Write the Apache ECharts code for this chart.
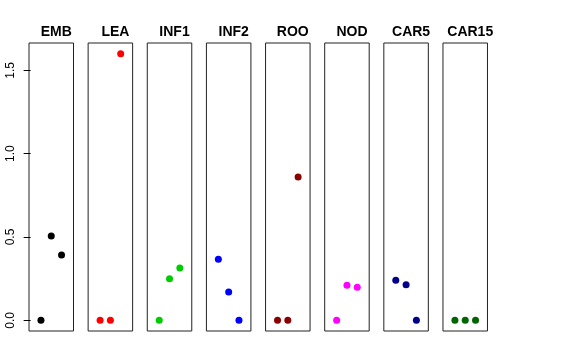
<!DOCTYPE html>
<html><head><meta charset="utf-8">
<script src="https://cdn.jsdelivr.net/npm/echarts@6/dist/echarts.min.js"></script>
<style>html,body{margin:0;padding:0;background:#fff}#c{width:576px;height:360px}</style>
</head><body><div id="c"></div>
<script>
const panels = ['EMB','LEA','INF1','INF2','ROO','NOD','CAR5','CAR15'];
const xPositions = [1, 2, 3];
const EMB = [0, 0.506, 0.392];
const LEA = [0, 0, 1.6];
const INF1 = [0, 0.25, 0.314];
const INF2 = [0.366, 0.17, 0];
const ROO = [0, 0, 0.86];
const NOD = [0, 0.21, 0.198];
const CAR5 = [0.24, 0.214, 0];
const CAR15 = [0, 0, 0];
const yTicks = [0, 0.5, 1.0, 1.5];
const values = [EMB, LEA, INF1, INF2, ROO, NOD, CAR5, CAR15];
const colors = ['#000000','#FF0000','#00CD00','#0000FF','#8B0000','#FF00FF','#00008B','#006400'];

const chart = echarts.init(document.getElementById('c'));
const grids = [], xAxes = [], yAxes = [], series = [], titles = [];
const gLeft0 = 29, gStep = 59.14, gW = 44.5, gTop = 43, gH = 288;
panels.forEach((p, i) => {
  const l = gLeft0 + i * gStep;
  grids.push({left: l, top: gTop, width: gW, height: gH, show: true, borderColor: '#222', borderWidth: 1, backgroundColor: 'transparent'});
  xAxes.push({gridIndex: i, type: 'value', min: -0.16, max: 4.16, show: false});
  yAxes.push({
    gridIndex: i, type: 'value', min: -0.064, max: 1.664,
    show: i === 0,
    splitLine: {show: false},
    axisLine: {show: false},
    axisTick: {show: i === 0, length: 7, customValues: yTicks, lineStyle: {color: '#000'}},
    axisLabel: {show: i === 0, customValues: yTicks, rotate: 90, margin: 12,
      formatter: v => Number(v).toFixed(1), color: '#000', fontSize: 12, fontFamily: 'Liberation Sans, Arial, sans-serif'}
  });
  series.push({
    type: 'scatter', xAxisIndex: i, yAxisIndex: i, symbol: 'circle', symbolSize: 7,
    itemStyle: {color: colors[i], opacity: 1},
    data: xPositions.map((x, j) => [x, values[i][j]]),
    silent: true, animation: false
  });
  titles.push({text: p, left: l + gW / 2, top: 20, textAlign: 'center',
    textStyle: {fontSize: 14, fontWeight: 'bold', color: '#000', fontFamily: 'Liberation Sans, Arial, sans-serif'}});
});
chart.setOption({animation: false, title: titles, grid: grids, xAxis: xAxes, yAxis: yAxes, series: series});
</script></body></html>
